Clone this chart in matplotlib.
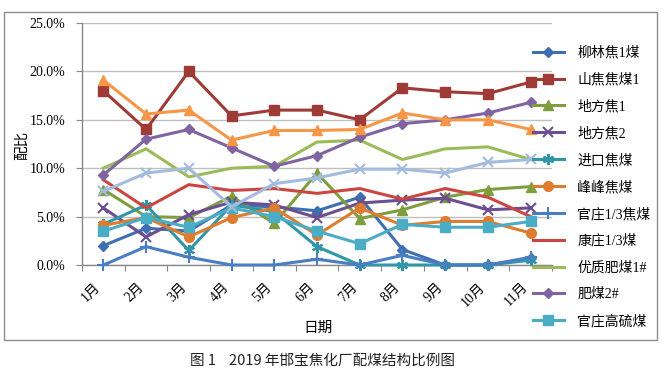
import matplotlib
matplotlib.use('Agg')
import matplotlib.pyplot as plt
import matplotlib.patches as patches
from matplotlib.ticker import PercentFormatter, FixedLocator

# mois et proportions (%)
mois = ['1月', '2月', '3月', '4月', '5月', '6月', '7月', '8月', '9月', '10月', '11月']

liulin = [2.0, 3.8, 3.5, 6.2, 6.0, 5.6, 7.0, 1.6, 0.0, 0.0, 0.7]
shanjiao = [18.0, 14.0, 20.0, 15.4, 16.0, 16.0, 15.0, 18.3, 17.9, 17.7, 18.9]
difang1 = [7.8, 5.0, 4.9, 7.1, 4.3, 9.5, 4.8, 5.7, 7.0, 7.8, 8.1]
difang2 = [5.9, 2.9, 5.2, 6.5, 6.2, 4.9, 6.4, 6.7, 6.9, 5.7, 5.9]
jinkou = [4.2, 6.2, 1.5, 6.2, 5.5, 1.9, 0.0, 0.0, 0.0, 0.0, 0.5]
fengfeng = [4.1, 4.9, 2.9, 4.9, 5.9, 3.1, 5.9, 4.1, 4.5, 4.5, 3.3]
guanzhuang13 = [0.0, 1.9, 0.8, 0.0, 0.0, 0.6, 0.0, 1.0, 0.0, 0.0, 0.8]
kangzhuang = [8.8, 5.9, 8.3, 7.7, 7.9, 7.4, 7.9, 6.8, 7.9, 7.0, 5.0]
youzhi = [10.0, 12.0, 9.1, 10.0, 10.2, 12.7, 12.9, 10.9, 12.0, 12.2, 10.9]
feimei2 = [9.3, 13.0, 14.0, 12.1, 10.2, 11.3, 13.2, 14.6, 15.0, 15.7, 16.8]
gaoliu = [3.5, 4.9, 3.9, 5.9, 5.0, 3.5, 2.2, 4.2, 3.9, 3.9, 4.5]
# deux series sans entree visible dans la legende
serie12 = [19.1, 15.6, 16.0, 12.9, 13.9, 13.9, 14.0, 15.7, 15.0, 15.0, 14.0]
serie13 = [7.6, 9.5, 10.0, 6.0, 8.4, 9.0, 9.9, 9.9, 9.5, 10.6, 10.9]

noms = ['柳林焦1煤', '山焦焦煤1', '地方焦1', '地方焦2', '进口焦煤', '峰峰焦煤',
        '官庄1/3焦煤', '康庄1/3煤', '优质肥煤1#', '肥煤2#', '官庄高硫煤', None, None]
series = [liulin, shanjiao, difang1, difang2, jinkou, fengfeng,
          guanzhuang13, kangzhuang, youzhi, feimei2, gaoliu, serie12, serie13]

styles = [
    ('#3E6FB0', 'D', 5.5),
    ('#9E3B37', 's', 7),
    ('#7E9E3E', '^', 7),
    ('#6B4F90', 'x', 7),
    ('#3096A8', (6, 2, 0), 8),
    ('#DE7C30', 'o', 7),
    ('#4A7EC2', '+', 8),
    ('#CB4641', None, 0),
    ('#9BBB59', None, 0),
    ('#8064A2', 'D', 5.5),
    ('#4BACC6', 's', 7),
    ('#F79646', '^', 7),
    ('#A3BCDD', 'x', 7.5),
]

serif = ['Liberation Serif', 'Noto Sans CJK SC']
cjk = ['Noto Sans CJK SC', 'DejaVu Sans']

fig = plt.figure(figsize=(6.67, 3.78), dpi=100)
ax = fig.add_axes([0.1229, 0.2989, 0.7047, 0.6403])

x = list(range(len(mois)))
handles = []
for valeurs, nom, (couleur, marq, taille) in zip(series, noms, styles):
    ln, = ax.plot(x, valeurs, color=couleur, linewidth=2.2, marker=marq,
                  markersize=taille, markeredgewidth=1.5 if marq in ('x', '+', (6, 2, 0)) else 1,
                  markeredgecolor=couleur, label=nom if nom else '_nolegend_',
                  clip_on=False, zorder=3)
    if nom:
        handles.append(ln)

ax.set_xlim(-0.5, len(mois) - 0.5)
ax.set_ylim(0, 25)
ax.yaxis.set_major_locator(FixedLocator([0, 5, 10, 15, 20, 25]))
ax.yaxis.set_major_formatter(PercentFormatter(xmax=100, decimals=1))
ax.grid(axis='y', color='#BFBFBF', linewidth=1)
ax.set_axisbelow(True)

# graduations x sur les limites des categories, etiquettes au centre
ax.set_xticks([i - 0.5 for i in range(len(mois) + 1)])
ax.set_xticklabels([])
ax.set_xticks(x, minor=True)
ax.set_xticklabels(mois, minor=True, rotation=45, ha='right', va='top',
                   fontsize=10, family=serif)
ax.tick_params(axis='x', which='minor', length=0, pad=11)
ax.tick_params(axis='x', which='major', length=4, color='#888888', direction='out')
ax.tick_params(axis='y', length=4, color='#888888', pad=8, labelsize=10)
for lab in ax.get_yticklabels():
    lab.set_family(serif)

for s in ['top', 'right']:
    ax.spines[s].set_visible(False)
for s in ['left', 'bottom']:
    ax.spines[s].set_color('#888888')
    ax.spines[s].set_linewidth(1)

fig.text(22 / 667, 1 - 145 / 378, '配比', rotation=90, ha='center', va='center',
         fontsize=10.5, family=cjk)
fig.text(318 / 667, 1 - 328 / 378, '日期', ha='center', va='center',
         fontsize=10.5, family=cjk)

leg = fig.legend(handles=handles, loc='upper left', bbox_to_anchor=(533 / 667, 1 - 46 / 378),
                 frameon=False, handlelength=2.2, handletextpad=1.0, labelspacing=0.96,
                 borderpad=0, borderaxespad=0, prop={'family': serif, 'size': 10})

# cadre gris autour du graphique
fig.add_artist(patches.Rectangle((4 / 667, 1 - 340 / 378), 653 / 667, 328 / 378,
                                 transform=fig.transFigure, fill=False,
                                 edgecolor='#8C8C8C', linewidth=1))

fig.text(190 / 667, 1 - 361 / 378, '图 1    2019 年邯宝焦化厂配煤结构比例图',
         ha='left', va='center', fontsize=10.5, family=cjk, color='#222222')

fig.savefig('out.png', dpi=100)
